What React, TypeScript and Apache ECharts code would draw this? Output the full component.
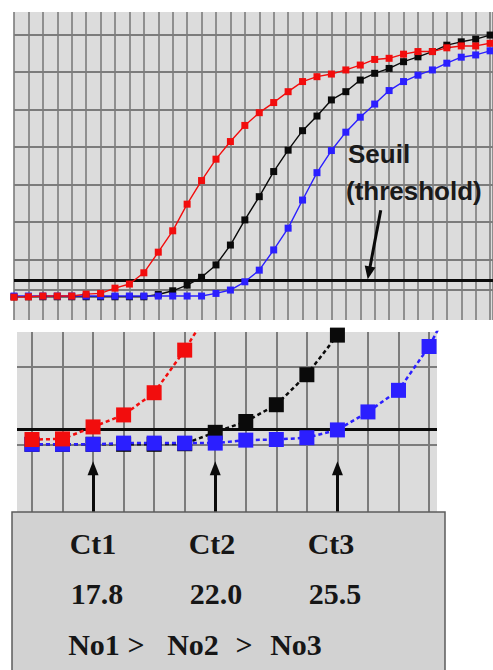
import React, { useEffect, useRef } from "react";
import * as echarts from "echarts";

// ---------- Top panel (full amplification curves) ----------
const redTop = [-0.01, 0, 0.02, 0.02, 0.02, 0.07, 0.09, 0.23, 0.34, 0.64, 1.19, 1.76, 2.47, 3.1, 3.67, 4.14, 4.57, 4.91, 5.18, 5.47, 5.74, 5.87, 5.94, 6.05, 6.18, 6.33, 6.36, 6.47, 6.54, 6.54, 6.64, 6.69, 6.69, 6.76];
const blackTop = [0, 0, 0, 0, 0, 0, 0, 0, 0, 0, 0.06, 0.16, 0.31, 0.52, 0.85, 1.38, 2.05, 2.67, 3.34, 3.91, 4.43, 4.82, 5.25, 5.47, 5.78, 5.96, 6.09, 6.27, 6.4, 6.54, 6.71, 6.8, 6.87, 6.98];
const blueTop = [0.02, 0.02, 0.02, 0.02, 0.02, 0.02, 0.02, 0.02, 0.02, 0.02, 0.02, 0.02, 0.02, 0.02, 0.09, 0.18, 0.4, 0.71, 1.25, 1.83, 2.58, 3.31, 3.9, 4.39, 4.79, 5.14, 5.5, 5.74, 5.91, 6.05, 6.23, 6.39, 6.45, 6.56];
const topGridY = [1, 2, 3, 4, 5, 6, 7];
const baselineY = 0.2;
const thresholdY = 0.45;
const thresholdArrow = [[25.42, 2.31], [24.6, 0.64]];
const thresholdText = ["Seuil", "(threshold)"];

// ---------- Bottom panel (zoom on the threshold crossing) ----------
const redZoom = [0.28, 0.29, 0.49, 0.69, 1.06, 1.77, 2.6];
const blackZoom = [0.2, 0.2, 0.2, 0.2, 0.2, 0.21, 0.4, 0.58, 0.86, 1.36, 2.02, 3.0];
const blueZoom = [0.2, 0.2, 0.2, 0.22, 0.22, 0.22, 0.22, 0.27, 0.28, 0.31, 0.44, 0.74, 1.1, 1.83, 2.8];
const zoomCycles = [0, 1, 2, 3, 4, 5, 6, 7, 8, 9, 10, 11, 12, 13];
const zoomGridY = [1.5];
const ctCycles = [2, 6, 10];
const ctLabels = ["Ct1", "Ct2", "Ct3"];
const ctValues = ["17.8", "22.0", "25.5"];
const ordering = ["No1", ">", "No2", ">", "No3"];

const RED = "#f20d0d";
const BLACK = "#0a0a0a";
const BLUE = "#2b1fff";
const PANEL = "#dcdcdc";
const GRIDLINE = "#7c7c7c";

const hiddenAxisBits = {
  axisLine: { show: false },
  axisTick: { show: false },
  axisLabel: { show: false },
};

function gridSeries(axisIdx: number, data: any[], color: string, width: number) {
  return {
    type: "line",
    xAxisIndex: axisIdx,
    yAxisIndex: axisIdx,
    data: [],
    silent: true,
    z: 1,
    markLine: {
      silent: true,
      z: 1,
      symbol: "none",
      label: { show: false },
      emphasis: { disabled: true },
      lineStyle: { color, width, type: "solid" },
      data,
    },
  };
}

function arrowSeries(axisIdx: number, lines: number[][][], size: number[]) {
  return {
    type: "line",
    xAxisIndex: axisIdx,
    yAxisIndex: axisIdx,
    data: [],
    silent: true,
    z: 5,
    markLine: {
      silent: true,
      z: 5,
      symbol: ["none", "triangle"],
      symbolSize: size,
      label: { show: false },
      emphasis: { disabled: true },
      lineStyle: { color: BLACK, width: 3, type: "solid" },
      data: lines.map((l) => [{ coord: l[0] }, { coord: l[1] }]),
    },
  };
}

function curve(axisIdx: number, values: number[], color: string, big: boolean) {
  return {
    type: "line",
    xAxisIndex: axisIdx,
    yAxisIndex: axisIdx,
    data: values.map((v, i) => [i, v]),
    symbol: "rect",
    symbolSize: big ? 15 : 7,
    showAllSymbol: true,
    itemStyle: { color },
    lineStyle: big ? { color, width: 2.5, type: [4, 3] } : { color, width: 1.4 },
    z: 2,
    silent: true,
  };
}

export default function App() {
  const ref = useRef<HTMLDivElement>(null);
  useEffect(() => {
    const chart = echarts.init(ref.current!, null, { renderer: "svg" });
    const serif = '"Liberation Serif", "Times New Roman", serif';
    const sans = '"Liberation Sans", Arial, sans-serif';

    const boxTexts: any[] = [];
    const ctX = [93, 212, 331];
    ctLabels.forEach((t, i) =>
      boxTexts.push({
        type: "text",
        x: ctX[i],
        y: 543,
        z: 21,
        style: { text: t, font: `bold 30px ${serif}`, fill: "#161616", textAlign: "center", align: "center", textVerticalAlign: "middle", verticalAlign: "middle" },
      })
    );
    ctValues.forEach((t, i) =>
      boxTexts.push({
        type: "text",
        x: ctX[i] + 4,
        y: 593,
        z: 21,
        style: { text: t, font: `bold 30px ${serif}`, fill: "#161616", textAlign: "center", align: "center", textVerticalAlign: "middle", verticalAlign: "middle" },
      })
    );
    const ordX = [94, 136, 193, 244, 296];
    ordering.forEach((t, i) =>
      boxTexts.push({
        type: "text",
        x: ordX[i],
        y: 644,
        z: 21,
        style: { text: t, font: `bold 30px ${serif}`, fill: "#161616", textAlign: "center", align: "center", textVerticalAlign: "middle", verticalAlign: "middle" },
      })
    );

    const option: any = {
      animation: false,
      grid: [
        { left: 14, top: 12, width: 479, height: 308, show: true, backgroundColor: PANEL, borderWidth: 0 },
        { left: 17, top: 332, width: 420, height: 180, show: true, backgroundColor: PANEL, borderWidth: 0 },
      ],
      xAxis: [
        {
          type: "value",
          gridIndex: 0,
          min: 0,
          max: 33.2,
          interval: 1,
          ...hiddenAxisBits,
          splitLine: { show: true, lineStyle: { color: GRIDLINE, width: 1.6 } },
        },
        {
          type: "value",
          gridIndex: 1,
          min: -0.49,
          max: 13.26,
          ...hiddenAxisBits,
          splitLine: { show: false },
        },
      ],
      yAxis: [
        { type: "value", gridIndex: 0, min: -0.619, max: 7.595, ...hiddenAxisBits, splitLine: { show: false } },
        { type: "value", gridIndex: 1, min: -0.928, max: 2.072, ...hiddenAxisBits, splitLine: { show: false } },
      ],
      series: [
        // top panel
        gridSeries(0, [...topGridY, baselineY].map((v) => ({ yAxis: v })), GRIDLINE, 2),
        gridSeries(0, [{ yAxis: thresholdY }], BLACK, 3),
        curve(0, blackTop, BLACK, false),
        curve(0, blueTop, BLUE, false),
        curve(0, redTop, RED, false),
        arrowSeries(0, [thresholdArrow], [11, 13]),
        // bottom panel
        gridSeries(1, [...zoomCycles.map((c) => ({ xAxis: c })), ...[...zoomGridY, baselineY].map((v) => ({ yAxis: v }))], GRIDLINE, 2),
        gridSeries(1, [{ yAxis: thresholdY }], BLACK, 3),
        curve(1, blackZoom, BLACK, true),
        curve(1, blueZoom, BLUE, true),
        curve(1, redZoom, RED, true),
        arrowSeries(1, ctCycles.map((c) => [[c, -0.928], [c, -0.2]]), [11, 14]),
      ],
      graphic: [
        {
          type: "text",
          x: 348,
          y: 154,
          z: 20,
          style: { text: thresholdText[0], font: `bold 26px ${sans}`, fill: "#1a1a1a", textAlign: "left", align: "left", textVerticalAlign: "middle", verticalAlign: "middle" },
        },
        {
          type: "text",
          x: 346,
          y: 191,
          z: 20,
          style: { text: thresholdText[1], font: `bold 26px ${sans}`, fill: "#1a1a1a", textAlign: "left", align: "left", textVerticalAlign: "middle", verticalAlign: "middle" },
        },
        {
          type: "rect",
          z: 20,
          shape: { x: 12, y: 512, width: 433, height: 170 },
          style: { fill: "#d2d2d2", stroke: "#5c5c5c", lineWidth: 1.5 },
        },
        ...boxTexts,
      ],
    };
    chart.setOption(option);
    return () => chart.dispose();
  }, []);
  return <div ref={ref} style={{ position: "absolute", left: 0, top: 0, width: 493, height: 670 }} />;
}
